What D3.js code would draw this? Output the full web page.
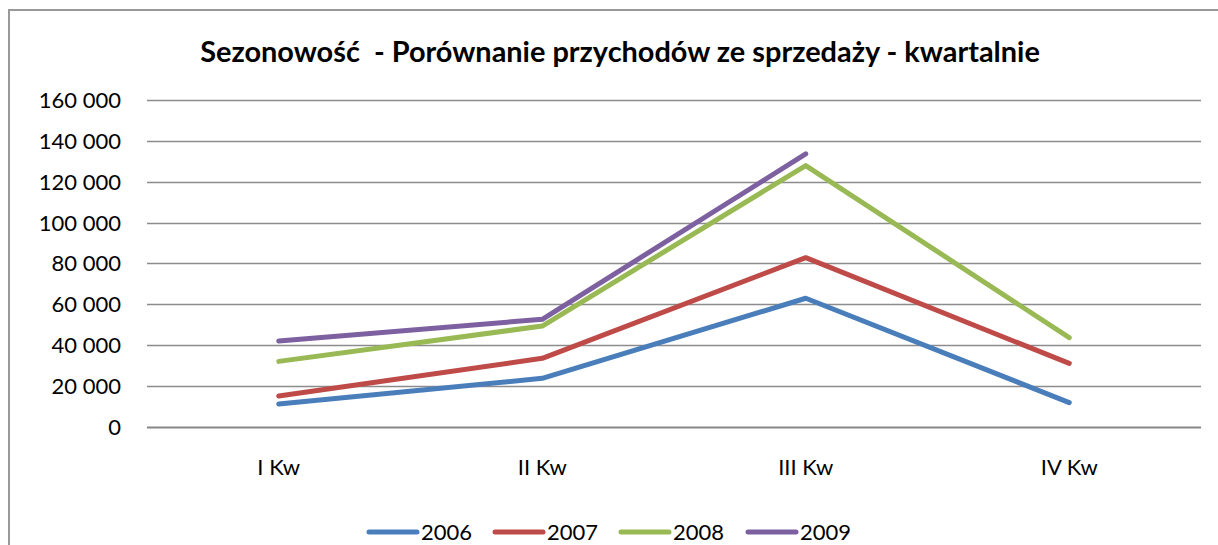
<!DOCTYPE html>
<html>

<head>
    <meta charset="utf-8">
    <title>Sezonowość</title>
    <script src="https://d3js.org/d3.v7.min.js"></script>
    <style>
        body {
            margin: 0;
            padding: 0;
            overflow: hidden;
            background: #fff;
        }

        text {
            font-family: Lato, "Open Sans", sans-serif;
            fill: #000;
        }
    </style>
</head>

<body>
    <script>
        var width = 1218,
            height = 545;

        // dane
        var quarters = ["I Kw", "II Kw", "III Kw", "IV Kw"];
        var years = ["2006", "2007", "2008", "2009"];
        var v2006 = [11100, 23700, 62900, 11800];
        var v2007 = [15000, 33500, 82800, 31000];
        var v2008 = [32000, 49300, 127900, 43600];
        var v2009 = [42000, 52600, 133600, null];
        var yTicks = [0, 20000, 40000, 60000, 80000, 100000, 120000, 140000, 160000];
        var colors = ["#4a7ebb", "#be4b48", "#98b954", "#7d60a0"];

        var series = years.map((y, i) => ({ name: y, color: colors[i], values: [v2006, v2007, v2008, v2009][i] }));

        var svg = d3.select("body").append("svg")
            .attr("width", width)
            .attr("height", height);

        // ramka wykresu
        svg.append("rect")
            .attr("x", 9).attr("y", 10)
            .attr("width", 1230).attr("height", 560)
            .attr("fill", "#fff")
            .attr("stroke", "#999")
            .attr("stroke-width", 2);

        var x = d3.scaleBand().domain(quarters).range([147, 1201]);
        var y = d3.scaleLinear().domain([0, 160000]).range([426.7, 100]);

        // linie siatki
        var grid = svg.append("g");
        grid.selectAll("line").data(yTicks).enter().append("line")
            .attr("x1", 147).attr("x2", 1201)
            .attr("y1", d => Math.round(y(d)) + 0.5)
            .attr("y2", d => Math.round(y(d)) + 0.5)
            .attr("stroke", d => d === 0 ? "#868686" : "#8c8c8c")
            .attr("stroke-width", d => d === 0 ? 2 : 1.3);

        var fmt = d => d3.format(",")(d).replace(/,/g, " ");
        svg.append("g").selectAll("text").data(yTicks).enter().append("text")
            .attr("x", 121)
            .attr("y", d => y(d) + 8)
            .attr("text-anchor", "end")
            .style("font-size", "22px")
            .text(fmt);

        svg.append("g").selectAll("text").data(quarters).enter().append("text")
            .attr("x", d => x(d) + x.bandwidth() / 2)
            .attr("y", 475)
            .attr("text-anchor", "middle")
            .style("font-size", "22px")
            .text(d => d);

        // linie serii
        var line = d3.line()
            .defined(d => d != null)
            .x((d, i) => x(quarters[i]) + x.bandwidth() / 2)
            .y(d => y(d));

        svg.append("g").selectAll("path").data(series).enter().append("path")
            .attr("d", d => line(d.values))
            .attr("fill", "none")
            .attr("stroke", d => d.color)
            .attr("stroke-width", 5)
            .attr("stroke-linecap", "round")
            .attr("stroke-linejoin", "round");

        // tytuł
        var title = svg.append("text")
            .attr("x", 620)
            .attr("y", 62)
            .attr("text-anchor", "middle")
            .style("font-weight", "bold")
            .style("font-size", "26px")
            .style("white-space", "pre")
            .text("Sezonowość  - Porównanie przychodów ze sprzedaży - kwartalnie");
        var tw = title.node().getComputedTextLength();
        title.style("font-size", (26 * 840 / tw) + "px");

        // legenda
        var legendX = [368, 494, 620, 747];
        var legend = svg.append("g").selectAll("g").data(series).enter().append("g")
            .attr("transform", (d, i) => "translate(" + legendX[i] + ",532)");
        legend.append("line")
            .attr("x1", 1).attr("x2", 49)
            .attr("stroke", d => d.color)
            .attr("stroke-width", 5)
            .attr("stroke-linecap", "round");
        legend.append("text")
            .attr("x", 53)
            .attr("y", 8)
            .style("font-size", "22px")
            .text(d => d.name);
    </script>
</body>

</html>
